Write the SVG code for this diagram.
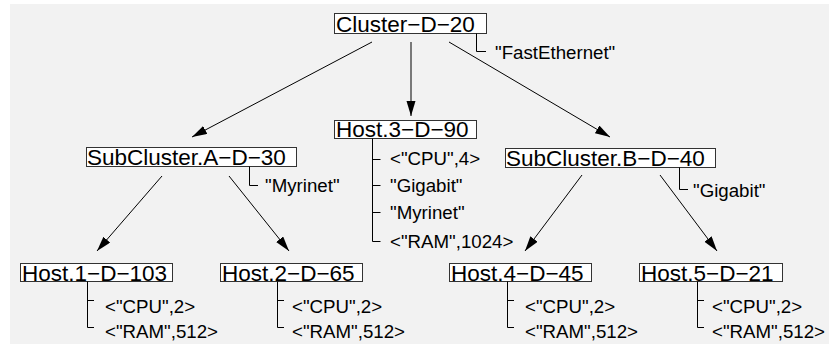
<svg xmlns="http://www.w3.org/2000/svg" width="829" height="347" viewBox="0 0 829 347">
<style>
.bg{fill:#f2f2f2}
.box{fill:#ffffff;stroke:#333333;stroke-width:1}
.t{font-family:"Liberation Sans",Arial,sans-serif;font-size:22.5px;fill:#000}
.l{font-family:"Liberation Sans",Arial,sans-serif;font-size:18.7px;fill:#000}
.br{fill:none;stroke:#000;stroke-width:1}
.ed{fill:none;stroke:#000;stroke-width:1;marker-end:url(#ah)}
</style>
<defs>
<marker id="ah" markerUnits="userSpaceOnUse" markerWidth="16" markerHeight="10" refX="15" refY="4.5" orient="auto">
<path d="M0,0 L15,4.5 L0,9 Z" fill="#000"/>
</marker>
</defs>
<rect class="bg" x="10" y="4" width="819" height="340"/>
<g id="connectors">
<line class="ed" x1="372" y1="42" x2="192" y2="137"/>
<line class="ed" x1="411" y1="42" x2="411" y2="116"/>
<line class="ed" x1="449" y1="42" x2="610" y2="137"/>
<line class="ed" x1="162" y1="176" x2="97" y2="251"/>
<line class="ed" x1="229" y1="176" x2="289" y2="251"/>
<line class="ed" x1="582" y1="175" x2="525" y2="251"/>
<line class="ed" x1="660" y1="175" x2="717" y2="251"/>
</g>
<g id="cluster">
<rect class="box" x="334.5" y="13.5" width="152" height="20"/>
<text class="t" x="336" y="31.5">Cluster−D−20</text>
<path class="br" d="M476.5,33.5 V51.5 H486"/>
<text class="l" x="495" y="59">"FastEthernet"</text>
</g>
<g id="host3">
<rect class="box" x="334.5" y="120.5" width="142" height="18"/>
<text class="t" x="336" y="137">Host.3−D−90</text>
<path class="br" d="M372.5,138.5 V241.5 H380.5 M372.5,159.5 H380.5 M372.5,185.5 H380.5 M372.5,212.5 H380.5"/>
<text class="l" x="390" y="165">&lt;"CPU",4&gt;</text>
<text class="l" x="390" y="192">"Gigabit"</text>
<text class="l" x="390" y="219">"Myrinet"</text>
<text class="l" x="390" y="248">&lt;"RAM",1024&gt;</text>
</g>
<g id="subA">
<rect class="box" x="86.5" y="147.5" width="210" height="19"/>
<text class="t" x="87" y="165">SubCluster.A−D−30</text>
<path class="br" d="M249.5,166.5 V185.5 H258"/>
<text class="l" x="265" y="192">"Myrinet"</text>
</g>
<g id="subB">
<rect class="box" x="505.5" y="148.5" width="210" height="19"/>
<text class="t" x="506" y="165.5">SubCluster.B−D−40</text>
<path class="br" d="M679.5,167.5 V189.5 H688"/>
<text class="l" x="693" y="197">"Gigabit"</text>
</g>
<g id="host1">
<rect class="box" x="20.5" y="263.5" width="152" height="18"/>
<text class="t" x="22" y="280.5">Host.1−D−103</text>
<path class="br" d="M87.5,281.5 V327.5 H94 M87.5,300.5 H94"/>
<text class="l" x="105" y="313">&lt;"CPU",2&gt;</text>
<text class="l" x="105" y="338">&lt;"RAM",512&gt;</text>
</g>
<g id="host2">
<rect class="box" x="220.5" y="263.5" width="142" height="18"/>
<text class="t" x="222" y="280.5">Host.2−D−65</text>
<path class="br" d="M277.5,281.5 V327.5 H284 M277.5,300.5 H284"/>
<text class="l" x="292" y="313">&lt;"CPU",2&gt;</text>
<text class="l" x="292" y="338">&lt;"RAM",512&gt;</text>
</g>
<g id="host4">
<rect class="box" x="449.5" y="263.5" width="142" height="18"/>
<text class="t" x="451" y="280.5">Host.4−D−45</text>
<path class="br" d="M507.5,281.5 V327.5 H514 M507.5,300.5 H514"/>
<text class="l" x="525" y="313">&lt;"CPU",2&gt;</text>
<text class="l" x="525" y="338">&lt;"RAM",512&gt;</text>
</g>
<g id="host5">
<rect class="box" x="639.5" y="263.5" width="143" height="18"/>
<text class="t" x="641" y="280.5">Host.5−D−21</text>
<path class="br" d="M697.5,281.5 V327.5 H704 M697.5,300.5 H704"/>
<text class="l" x="712" y="313">&lt;"CPU",2&gt;</text>
<text class="l" x="712" y="338">&lt;"RAM",512&gt;</text>
</g>
</svg>
